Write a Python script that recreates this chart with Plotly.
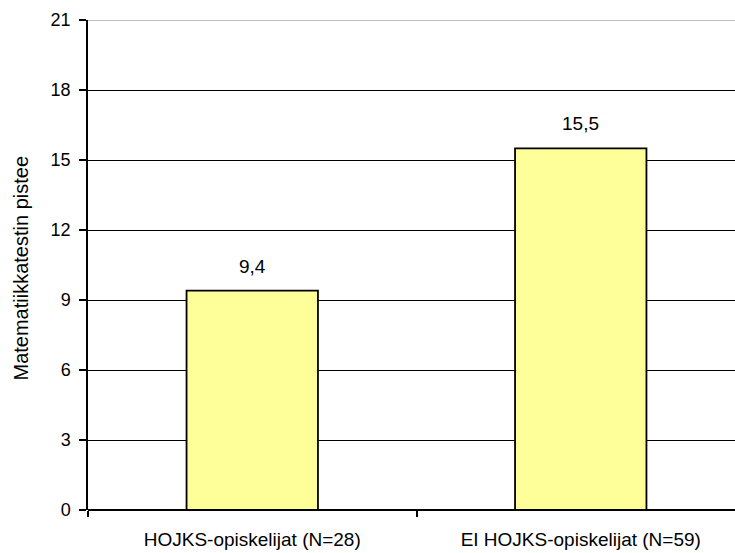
import plotly.graph_objects as go

# Mean maths test scores by group
categories = ["HOJKS-opiskelijat (N=28)", "EI HOJKS-opiskelijat (N=59)"]
scores = [9.4, 15.5]
y_ticks = [0, 3, 6, 9, 12, 15, 18, 21]

W, H = 735, 553
L, R, T, B = 88, 0, 20, 43
plot_w = W - L - R
plot_h = H - T - B
cat_px = 328.5  # pixel width of one category slot
FONT = "Liberation Sans, Arial, sans-serif"

fig = go.Figure()
fig.add_trace(go.Bar(
    x=categories,
    y=scores,
    width=0.40,
    marker=dict(color="#FFFF99", line=dict(color="#000000", width=1.8)),
    hoverinfo="skip",
))

# Value labels above bars (decimal comma)
for c, v in zip(categories, scores):
    fig.add_annotation(
        x=c, y=v, xref="x", yref="y",
        text=f"{v:.1f}".replace(".", ","),
        showarrow=False, yanchor="bottom", yshift=12,
        font=dict(family=FONT, size=19, color="#000000"),
    )

# Y-axis title
fig.add_annotation(
    x=(20 - L) / plot_w, y=(510 - 383) / plot_h, xref="paper", yref="paper",
    text="Matematiikkatestin pistee", textangle=-90,
    showarrow=False, xanchor="center", yanchor="bottom",
    font=dict(family=FONT, size=20, color="#000000"),
)

# Top gridline drawn in grey
fig.add_shape(type="line", xref="paper", yref="y", x0=0, x1=1, y0=21, y1=21,
              line=dict(color="#808080", width=1), layer="above")

fig.update_layout(
    width=W, height=H,
    margin=dict(l=L, r=R, t=T, b=B, pad=0),
    paper_bgcolor="#FFFFFF", plot_bgcolor="#FFFFFF",
    showlegend=False,
    font=dict(family=FONT, size=18, color="#000000"),
    xaxis=dict(
        type="category",
        range=[-0.5, -0.5 + plot_w / cat_px],
        showgrid=False, zeroline=False,
        showline=False,
        ticks="outside", tickson="boundaries", ticklen=6, tickwidth=1.5,
        tickcolor="#000000",
        ticklabelstandoff=16,
        tickfont=dict(size=19),
    ),
    yaxis=dict(
        range=[0, 21],
        tickvals=y_ticks,
        showgrid=True, gridcolor="#000000", gridwidth=1,
        zeroline=True, zerolinecolor="#000000", zerolinewidth=1.5,
        showline=True, linecolor="#000000", linewidth=1.5,
        ticks="outside", ticklen=7, tickwidth=1.5, tickcolor="#000000",
        ticklabelstandoff=5,
        tickfont=dict(size=18),
    ),
)

fig.write_html("out.html")
